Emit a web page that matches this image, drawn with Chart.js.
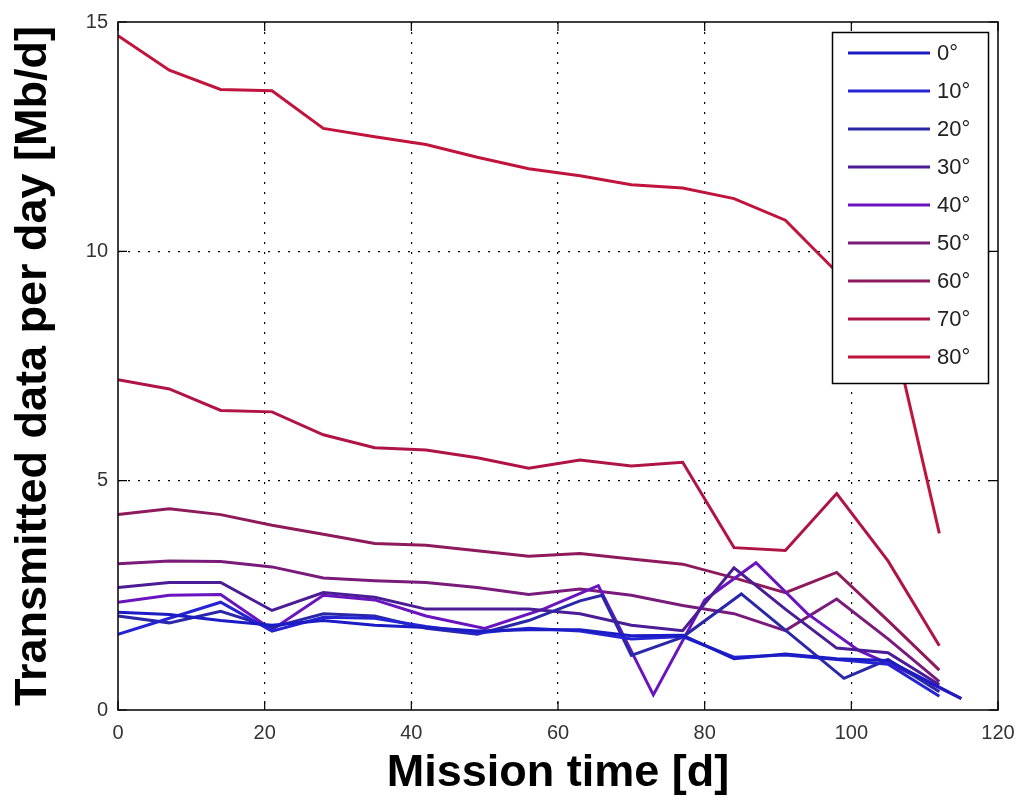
<!DOCTYPE html>
<html><head><meta charset="utf-8">
<script src="https://cdn.jsdelivr.net/npm/chart.js@4.4.0/dist/chart.umd.min.js"></script>
<style>html,body{margin:0;padding:0;background:#fff;overflow:hidden;}canvas{display:block;}</style>
</head><body>
<canvas id="c" width="1030" height="806"></canvas>
<script>
// ---- data ----
const days = [0,7,14,21,28,35,42,49,56,63,70,77,84,91,98,105,112];
const days0 = [0,7,14,21,28,35,42,49,56,63,70,77,84,91,98,105,115];
const days20 = [0,7,14,21,28,35,42,49,56,63,66,70,77,85,99,105,112];
const days40 = [0,7,14,21,28,35,42,50,58,65.5,73,80,87,94,101,108,115];

const vals0  = [2.13,2.08,1.95,1.85,1.95,1.85,1.8,1.72,1.75,1.75,1.62,1.63,1.12,1.22,1.12,1.08,0.25];
const vals10 = [1.65,2.0,2.35,1.72,2.02,2.0,1.82,1.68,1.78,1.72,1.55,1.6,1.15,1.2,1.1,1.0,0.3];
const vals20 = [2.05,1.9,2.15,1.8,2.1,2.05,1.78,1.65,1.95,2.38,2.5,1.19,1.59,2.53,0.69,1.1,0.4];
const vals30 = [2.67,2.78,2.78,2.17,2.56,2.46,2.2,2.2,2.2,2.1,1.85,1.73,3.1,2.2,1.35,1.25,0.55];
const vals40 = [2.35,2.5,2.52,1.75,2.5,2.4,2.05,1.78,2.2,2.71,0.33,2.4,3.21,2.1,1.3,0.8,0.25];
const vals50 = [3.19,3.25,3.24,3.12,2.88,2.82,2.78,2.67,2.52,2.64,2.5,2.28,2.1,1.73,2.42,1.55,0.62];
const vals60 = [4.26,4.39,4.26,4.03,3.83,3.63,3.59,3.47,3.35,3.41,3.29,3.18,2.88,2.56,3.0,1.95,0.87];
const vals70 = [7.2,7.0,6.53,6.5,6.0,5.72,5.67,5.5,5.27,5.45,5.32,5.4,3.54,3.48,4.72,3.25,1.4];
const vals80 = [14.7,13.95,13.53,13.5,12.68,12.5,12.33,12.05,11.8,11.65,11.45,11.38,11.15,10.68,9.55,8.7,3.85];

const seriesLabels = ['0°','10°','20°','30°','40°','50°','60°','70°','80°'];
const seriesDays = [days0, days, days20, days, days40, days, days, days, days];
const seriesVals = [vals0, vals10, vals20, vals30, vals40, vals50, vals60, vals70, vals80];
const seriesColors = ['#1c1cc4','#2424d4','#2a28a8','#4a1c96','#6a14c0','#7a1a7a','#8e1a5c','#b01446','#c0143c'];

const xTitle = 'Mission time [d]';
const yTitle = 'Transmitted data per day [Mb/d]';

const FONT = "'Liberation Sans', Arial, sans-serif";

const datasets = seriesLabels.map((lab, i) => ({
  label: lab,
  data: seriesDays[i].map((d, j) => ({x: d, y: seriesVals[i][j]})),
  borderColor: seriesColors[i],
  backgroundColor: seriesColors[i],
  borderWidth: 3,
  pointRadius: 0,
  tension: 0,
  fill: false
}));

const matlabPlugin = {
  id: 'matlabBox',
  afterDatasetsDraw(chart) {
    const {ctx, chartArea: a, scales: {x, y}} = chart;
    ctx.save();
    ctx.strokeStyle = '#000';
    ctx.lineWidth = 1.5;
    ctx.strokeRect(a.left, a.top, a.right - a.left, a.bottom - a.top);
    ctx.lineWidth = 1.2;
    ctx.beginPath();
    x.ticks.forEach(t => {
      const px = x.getPixelForValue(t.value);
      ctx.moveTo(px, a.bottom); ctx.lineTo(px, a.bottom - 9);
      ctx.moveTo(px, a.top); ctx.lineTo(px, a.top + 9);
    });
    y.ticks.forEach(t => {
      const py = y.getPixelForValue(t.value);
      ctx.moveTo(a.left, py); ctx.lineTo(a.left + 9, py);
      ctx.moveTo(a.right, py); ctx.lineTo(a.right - 9, py);
    });
    ctx.stroke();
    ctx.restore();
  },
  afterDraw(chart) {
    const ctx = chart.ctx;
    const bx = 832, by = 32, bw = 156, bh = 351;
    ctx.save();
    ctx.fillStyle = '#fff';
    ctx.fillRect(bx, by, bw, bh);
    ctx.strokeStyle = '#000';
    ctx.lineWidth = 1.5;
    ctx.strokeRect(bx + 0.5, by + 0.5, bw, bh);
    ctx.font = '22px ' + FONT;
    ctx.textBaseline = 'middle';
    ctx.textAlign = 'left';
    chart.data.datasets.forEach((ds, i) => {
      const yy = 53 + i * 38;
      ctx.strokeStyle = ds.borderColor;
      ctx.lineWidth = 3;
      ctx.beginPath();
      ctx.moveTo(848, yy); ctx.lineTo(930, yy);
      ctx.stroke();
      ctx.fillStyle = '#222';
      ctx.fillText(ds.label, 937, yy + 1);
    });
    ctx.restore();
  }
};

const gridColor = (ctx) => {
  const v = ctx.tick ? ctx.tick.value : null;
  const sc = ctx.scale;
  if (v === sc.min || v === sc.max) return 'rgba(0,0,0,0)';
  return '#000';
};

new Chart(document.getElementById('c'), {
  type: 'line',
  data: {datasets},
  plugins: [matlabPlugin],
  options: {
    responsive: false,
    devicePixelRatio: 1,
    animation: false,
    layout: {padding: {top: 18, right: 32, bottom: 0, left: 0}},
    plugins: {legend: {display: false}, tooltip: {enabled: false}},
    scales: {
      x: {
        type: 'linear', min: 0, max: 120,
        ticks: {stepSize: 20, color: '#333', padding: 11, font: {family: FONT, size: 20}, maxRotation: 0},
        grid: {color: gridColor, lineWidth: 1.2, drawTicks: false},
        border: {display: false, dash: [2, 8]},
        title: {display: true, text: xTitle, color: '#000', font: {family: FONT, size: 45, weight: 'bold'}, padding: {top: 0, bottom: 5}},
        afterFit: s => { s.height = 96; }
      },
      y: {
        type: 'linear', min: 0, max: 15,
        ticks: {stepSize: 5, color: '#333', padding: 10, font: {family: FONT, size: 20}},
        grid: {color: gridColor, lineWidth: 1.2, drawTicks: false},
        border: {display: false, dash: [2, 8]},
        title: {display: true, text: yTitle, color: '#000', font: {family: FONT, size: 45, weight: 'bold'}, padding: {top: 7, bottom: 0}},
        afterFit: s => { s.width = 118; }
      }
    }
  }
});
</script>
</body></html>
